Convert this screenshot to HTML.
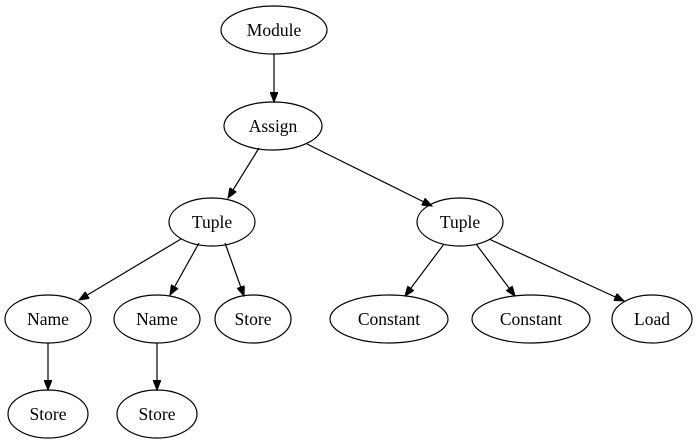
<!DOCTYPE html>
<html><head><style>html,body{margin:0;padding:0;background:#fff}</style></head>
<body>
<svg width="699" height="443" viewBox="0 0 699 443" xmlns="http://www.w3.org/2000/svg">
<defs>
<marker id="a" markerUnits="userSpaceOnUse" markerWidth="11" markerHeight="8" refX="10" refY="4" orient="auto">
<polygon points="0,0 10,4 0,8" fill="#000" stroke="#000"/>
</marker>
</defs>
<g fill="none" stroke="#000" stroke-width="1.2">
<ellipse cx="274" cy="30" rx="53" ry="24"/>
<ellipse cx="273" cy="126" rx="49" ry="24"/>
<ellipse cx="212" cy="222" rx="43" ry="24"/>
<ellipse cx="460" cy="222" rx="43" ry="24"/>
<ellipse cx="48" cy="319" rx="43" ry="24"/>
<ellipse cx="157" cy="319" rx="43" ry="24"/>
<ellipse cx="253" cy="319" rx="38" ry="24"/>
<ellipse cx="389" cy="319" rx="59" ry="24"/>
<ellipse cx="531" cy="319" rx="59" ry="24"/>
<ellipse cx="652" cy="319" rx="40" ry="24"/>
<ellipse cx="48" cy="414" rx="40" ry="24"/>
<ellipse cx="157" cy="414" rx="40" ry="24"/>
<g marker-end="url(#a)">
<line x1="274" y1="54" x2="274" y2="102"/>
<line x1="259" y1="148" x2="228" y2="198"/>
<line x1="307" y1="144" x2="432" y2="206"/>
<line x1="181" y1="239" x2="79" y2="300"/>
<line x1="199" y1="243" x2="170" y2="295"/>
<line x1="225" y1="243" x2="244" y2="296"/>
<line x1="444" y1="244" x2="405" y2="296"/>
<line x1="476" y1="244" x2="515" y2="296"/>
<line x1="489" y1="239" x2="624" y2="301"/>
<line x1="48" y1="343" x2="48" y2="390"/>
<line x1="157" y1="343" x2="157" y2="390"/>
</g>
</g>
<g font-family="Liberation Serif, serif" font-size="17.5" text-anchor="middle" fill="#000">
<text x="274" y="36">Module</text>
<text x="273" y="132">Assign</text>
<text x="212" y="228">Tuple</text>
<text x="460" y="228">Tuple</text>
<text x="48" y="325">Name</text>
<text x="157" y="325">Name</text>
<text x="253" y="325">Store</text>
<text x="389" y="325">Constant</text>
<text x="531" y="325">Constant</text>
<text x="652" y="325">Load</text>
<text x="48" y="420">Store</text>
<text x="157" y="420">Store</text>
</g>
</svg>
</body></html>
